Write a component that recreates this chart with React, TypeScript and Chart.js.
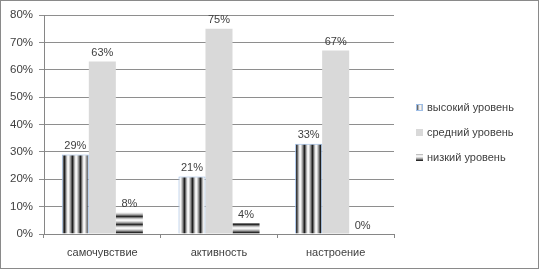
import React, { useEffect, useRef } from "react";
import { Chart, registerables } from "chart.js";

Chart.register(...registerables);

const categories = ["самочувствие", "активность", "настроение"];
const seriesNames = ["высокий уровень", "средний уровень", "низкий уровень"];
const highValues = [29, 21, 33];
const midValues = [63, 75, 67];
const lowValues = [8, 4, 0];
const yTicks = [0, 10, 20, 30, 40, 50, 60, 70, 80];

const FONT = "'Liberation Sans', 'DejaVu Sans', sans-serif";

function makeVerticalPattern(ctx: CanvasRenderingContext2D) {
  const c = document.createElement("canvas");
  c.width = 8;
  c.height = 4;
  const g = c.getContext("2d")!;
  const cols = ["#202020", "#6a6a6a", "#b4b4b4", "#ececec", "#f6f6f6", "#cfcfcf", "#9a9a9a", "#5c5c5c"];
  cols.forEach((col, i) => {
    g.fillStyle = col;
    g.fillRect(i, 0, 1, 4);
  });
  return ctx.createPattern(c, "repeat")!;
}

function makeHorizontalPattern(ctx: CanvasRenderingContext2D) {
  const c = document.createElement("canvas");
  c.width = 4;
  c.height = 8;
  const g = c.getContext("2d")!;
  const cols = ["#2a2a2a", "#7a7a7a", "#c0c0c0", "#ececec", "#f6f6f6", "#d6d6d6", "#a8a8a8", "#6a6a6a"];
  cols.forEach((col, i) => {
    g.fillStyle = col;
    g.fillRect(0, i, 4, 1);
  });
  return ctx.createPattern(c, "repeat")!;
}

export default function App() {
  const ref = useRef<HTMLCanvasElement | null>(null);

  useEffect(() => {
    document.body.style.margin = "0";
    const canvas = ref.current!;
    const ctx = canvas.getContext("2d")!;
    const vPat = makeVerticalPattern(ctx);
    const hPat = makeHorizontalPattern(ctx);

    const frame = {
      id: "frame",
      beforeDraw(chart: any) {
        const c = chart.ctx;
        c.save();
        c.fillStyle = "#ffffff";
        c.fillRect(0, 0, chart.width, chart.height);
        c.strokeStyle = "#8a8a8a";
        c.lineWidth = 1;
        c.strokeRect(0.5, 0.5, chart.width - 1, chart.height - 1);
        c.restore();
      },
    };

    const labels = {
      id: "labels",
      afterDatasetsDraw(chart: any) {
        const c = chart.ctx;
        c.save();
        c.font = `11px ${FONT}`;
        c.fillStyle = "#404040";
        c.textAlign = "center";
        c.textBaseline = "bottom";
        chart.data.datasets.forEach((ds: any, di: number) => {
          const meta = chart.getDatasetMeta(di);
          meta.data.forEach((bar: any, i: number) => {
            c.fillText(ds.data[i] + "%", bar.x, bar.y - 3);
          });
        });
        c.restore();
      },
    };

    const legend = {
      id: "customLegend",
      afterDraw(chart: any) {
        const c = chart.ctx;
        c.save();
        c.font = `11px ${FONT}`;
        c.textBaseline = "middle";
        const ys = [108, 133, 158];
        chart.data.datasets.forEach((ds: any, i: number) => {
          const y = ys[i];
          c.fillStyle = ds.backgroundColor;
          c.fillRect(416, y - 4, 7, 7);
          if (ds.borderWidth) {
            c.strokeStyle = ds.borderColor;
            c.lineWidth = 1;
            c.strokeRect(416.5, y - 3.5, 6, 6);
          }
          c.fillStyle = "#404040";
          c.fillText(ds.label, 427, y);
        });
        c.restore();
      },
    };

    const chart = new Chart(ctx, {
      type: "bar",
      data: {
        labels: categories,
        datasets: [
          { label: seriesNames[0], data: highValues, backgroundColor: vPat as any, borderColor: "#9dbde6", borderWidth: 1 },
          { label: seriesNames[1], data: midValues, backgroundColor: "#d9d9d9", borderWidth: 0 },
          { label: seriesNames[2], data: lowValues, backgroundColor: hPat as any, borderWidth: 0 },
        ],
      },
      options: {
        animation: false,
        responsive: false,
        maintainAspectRatio: false,
        layout: { padding: { left: 0, right: 145, top: 15, bottom: 0 } },
        plugins: { legend: { display: false }, tooltip: { enabled: false } },
        datasets: { bar: { categoryPercentage: 0.695, barPercentage: 1 } },
        scales: {
          x: {
            grid: { display: true, drawOnChartArea: false, color: "#868686", tickLength: 4, offset: true },
            border: { color: "#868686" },
            ticks: { font: { size: 11, family: FONT }, color: "#404040", padding: 8 },
            afterFit: (s: any) => { s.height = 35; },
          },
          y: {
            min: 0,
            max: 80,
            afterBuildTicks: (s: any) => { s.ticks = yTicks.map((v) => ({ value: v })); },
            grid: { color: "#8e8e8e", tickLength: 5 },
            border: { color: "#868686" },
            ticks: { font: { size: 11.5, family: FONT }, color: "#404040", padding: 6, callback: (v: any) => v + "%" },
            afterFit: (s: any) => { s.width = 44; },
          },
        },
      },
      plugins: [frame, labels, legend],
    });
    return () => chart.destroy();
  }, []);

  return (
    <div style={{ width: 539, height: 269 }}>
      <canvas ref={ref} width={539} height={269} style={{ width: 539, height: 269, display: "block" }} />
    </div>
  );
}
